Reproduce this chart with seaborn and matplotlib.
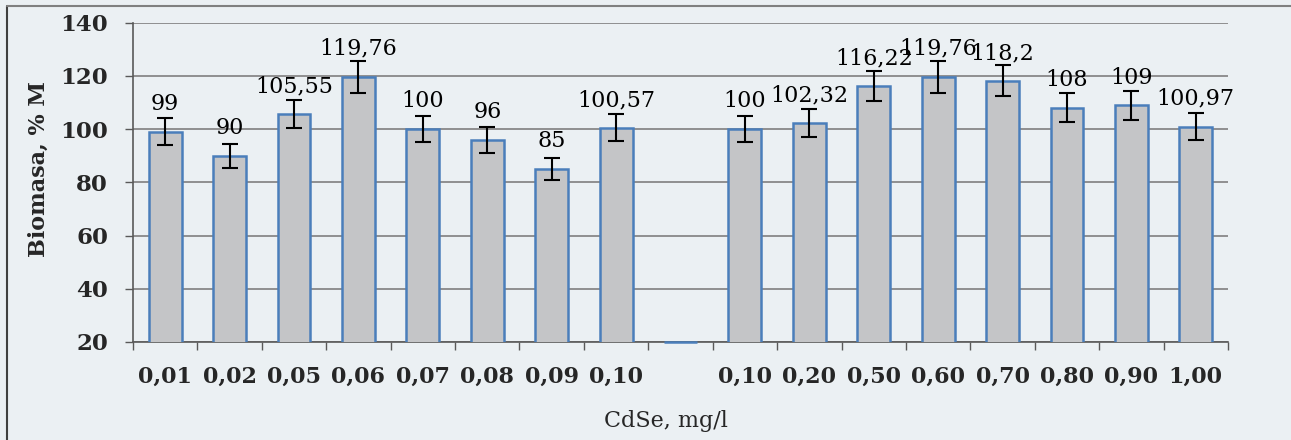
import matplotlib
matplotlib.use("Agg")
import matplotlib.pyplot as plt
import seaborn as sns
import pandas as pd
from matplotlib.lines import Line2D

categories = ["0,01", "0,02", "0,05", "0,06", "0,07", "0,08", "0,09", "0,10", "",
              "0,10", "0,20", "0,50", "0,60", "0,70", "0,80", "0,90", "1,00"]
values = [99, 90, 105.55, 119.76, 100, 96, 85, 100.57, 20,
          100, 102.32, 116.22, 119.76, 118.2, 108, 109, 100.97]
errors = [5, 4.5, 5.3, 6, 5, 4.8, 4.3, 5, 0,
          5, 5.1, 5.8, 6, 5.9, 5.4, 5.5, 5]
labels = ["99", "90", "105,55", "119,76", "100", "96", "85", "100,57", "",
          "100", "102,32", "116,22", "119,76", "118,2", "108", "109", "100,97"]

sns.set_theme(style="white")
plt.rcParams["font.family"] = ["DejaVu Serif"]

BG = "#EBF0F3"
df = pd.DataFrame({"pos": list(range(len(values))), "val": values})

fig = plt.figure(figsize=(12.91, 4.40), dpi=100, facecolor=BG)
ax = fig.add_axes([133/1291, 1 - 342/440, (1228-133)/1291, (342-22.7)/440])
ax.set_facecolor(BG)

sns.barplot(data=df, x="pos", y="val", ax=ax, color="#C4C5C7", width=0.51,
            edgecolor="#4A7EBB", linewidth=1.8, saturation=1, errorbar=None,
            order=list(range(len(values))), zorder=3)

n = len(values)
ax.set_ylim(20, 140)
# the empty slot shows as a flat bar lying on the axis minimum
for i, p in enumerate(ax.patches[:n]):
    if values[i] <= 20:
        p.set_y(values[i])
        p.set_height(0)
        p.set_clip_on(False)

for i in range(n):
    if errors[i] > 0:
        ax.errorbar(i, values[i], yerr=errors[i], fmt="none", ecolor="black",
                    elinewidth=1.5, capsize=6, capthick=1.5, zorder=4)
    if labels[i]:
        ax.annotate(labels[i], (i, values[i]), xytext=(0, 12),
                    textcoords="offset points", ha="center", va="bottom",
                    fontsize=16, color="black", zorder=5)

ax.set_xlim(-0.5, n - 0.5)
ax.set_yticks([20, 40, 60, 80, 100, 120, 140])
ax.set_yticklabels(["20", "40", "60", "80", "100", "120", "140"],
                   fontsize=16.5, fontweight="bold")
ax.yaxis.grid(True, color="#7F7F7F", linewidth=1.2, zorder=0)
ax.set_axisbelow(True)

ax.set_xticks([i - 0.5 for i in range(n + 1)])
ax.set_xticklabels([])
ax.set_xticks(list(range(n)), minor=True)
ax.set_xticklabels(categories, minor=True, fontsize=16, fontweight="bold")
ax.tick_params(axis="x", which="major", direction="out", length=6, width=1,
               color="#595959", bottom=True)
ax.tick_params(axis="x", which="minor", length=0, pad=17)
ax.tick_params(axis="y", which="major", direction="out", length=6, width=1,
               color="#595959", left=True, pad=12)

for s in ["top", "right"]:
    ax.spines[s].set_visible(False)
for s in ["left", "bottom"]:
    ax.spines[s].set_color("#595959")
    ax.spines[s].set_linewidth(1.2)

ax.set_xlabel("")
ax.set_ylabel("")
fig.text(39/1291, 1 - 169/440, "Biomasa, % M", rotation=90, ha="center",
         va="center", fontsize=16, fontweight="bold")
fig.text(666/1291, 1 - 421/440, "CdSe, mg/l", ha="center", va="center",
         fontsize=16)

# outer chart border (top and left visible)
fig.add_artist(Line2D([7/1291, 7/1291], [0, 1 - 6/440], transform=fig.transFigure,
                      color="#404040", linewidth=1.5))
fig.add_artist(Line2D([7/1291, 1], [1 - 6/440, 1 - 6/440], transform=fig.transFigure,
                      color="#808080", linewidth=1.5))

fig.savefig("out.png", dpi=100, facecolor=BG)
